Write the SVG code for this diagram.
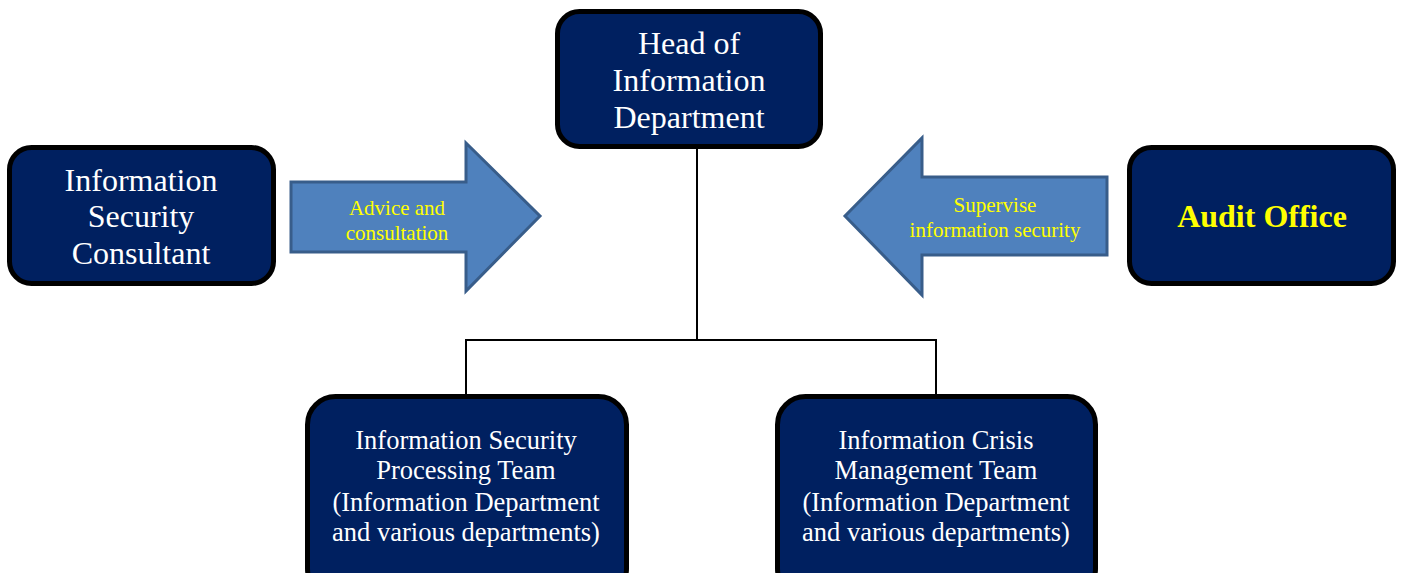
<svg xmlns="http://www.w3.org/2000/svg" width="1403" height="573" viewBox="0 0 1403 573">
<style>
.box{fill:#002060;stroke:#000;stroke-width:5}
.arr{fill:#4F81BD;stroke:#385D8A;stroke-width:3}
.t{font-family:"Liberation Serif","Times New Roman",serif;fill:#fff;text-anchor:middle}
.big{font-size:32px}
.mid{font-size:26.5px}
.lab{font-family:"Liberation Serif","Times New Roman",serif;fill:#FFFF00;text-anchor:middle;font-size:21px}
.ln{stroke:#000;stroke-width:2;fill:none}
</style>
<rect width="1403" height="573" fill="#fff"/>
<g id="connectors">
<path class="ln" d="M697 148 V340 M466 340 H936 M466 339 V396 M936 339 V396"/>
</g>
<g id="head">
<rect class="box" x="557.5" y="11.5" width="263" height="135" rx="22"/>
<text class="t big" x="689" y="54">Head of</text>
<text class="t big" x="689" y="91">Information</text>
<text class="t big" x="689" y="128">Department</text>
</g>
<g id="consultant">
<rect class="box" x="9.5" y="147.5" width="264" height="136" rx="22"/>
<text class="t big" x="141" y="191">Information</text>
<text class="t big" x="141" y="227">Security</text>
<text class="t big" x="141" y="264">Consultant</text>
</g>
<g id="audit">
<rect class="box" x="1129.5" y="147.5" width="264" height="136" rx="22"/>
<text class="t big" x="1262" y="227" style="font-weight:bold;fill:#FFFF00">Audit Office</text>
</g>
<g id="advice">
<polygon class="arr" points="291,182 466,182 466,143 540,216 466,291 466,252 291,252"/>
<text class="lab" x="397" y="215">Advice and</text>
<text class="lab" x="397" y="240">consultation</text>
</g>
<g id="supervise">
<polygon class="arr" points="1107,177 922,177 922,138 845,216 922,295 922,255 1107,255"/>
<text class="lab" x="995" y="212">Supervise</text>
<text class="lab" x="995" y="237">information security</text>
</g>
<g id="team1">
<rect class="box" x="307.5" y="396.5" width="319" height="200" rx="28"/>
<text class="t mid" x="466" y="449">Information Security</text>
<text class="t mid" x="466" y="479">Processing Team</text>
<text class="t mid" x="466" y="511">(Information Department</text>
<text class="t mid" x="466" y="541">and various departments)</text>
</g>
<g id="team2">
<rect class="box" x="777.5" y="396.5" width="318" height="200" rx="28"/>
<text class="t mid" x="936" y="449">Information Crisis</text>
<text class="t mid" x="936" y="479">Management Team</text>
<text class="t mid" x="936" y="511">(Information Department</text>
<text class="t mid" x="936" y="541">and various departments)</text>
</g>
</svg>
